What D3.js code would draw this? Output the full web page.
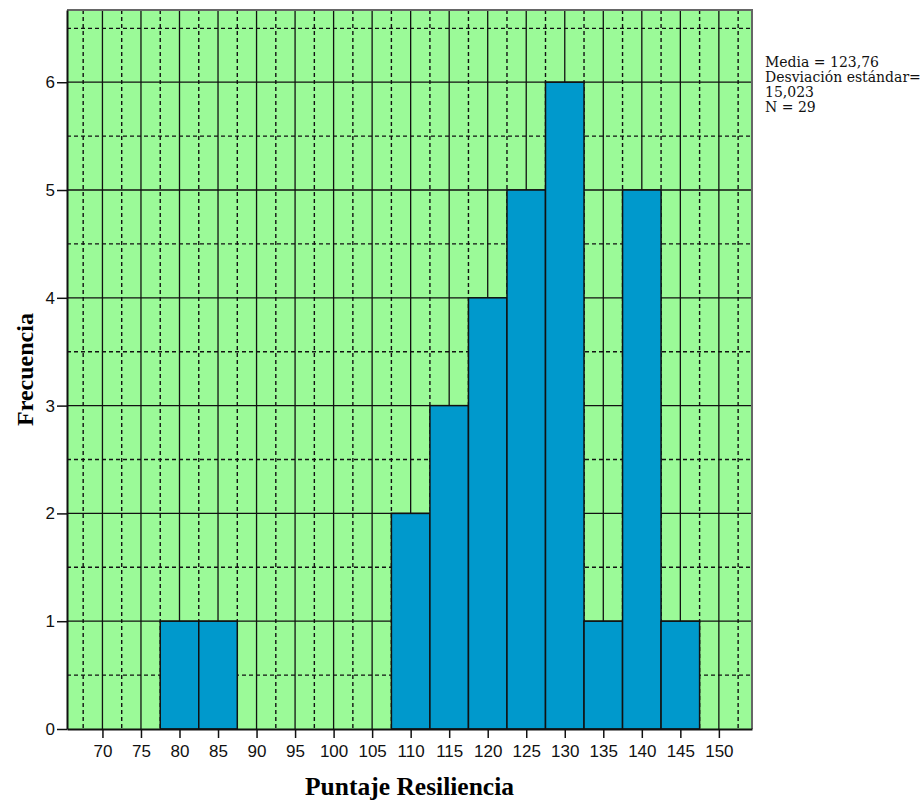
<!DOCTYPE html>
<html>
<head>
<meta charset="utf-8">
<script src="https://cdnjs.cloudflare.com/ajax/libs/d3/7.8.5/d3.min.js"></script>
<style>
  body { margin: 0; background: #fff; }
  .tick text { font-family: "Liberation Sans", Arial, sans-serif; font-size: 17px; fill: #111; }
</style>
</head>
<body>
<div class="chart"></div>
<script>
// bin centres (width 5) and their counts
var binCenters = [80, 85, 110, 115, 120, 125, 130, 135, 140, 145];
var counts = [1, 1, 2, 3, 4, 5, 6, 1, 5, 1];
var binWidth = 5;

var xTicks = [70, 75, 80, 85, 90, 95, 100, 105, 110, 115, 120, 125, 130, 135, 140, 145, 150];
var xMinor = [67.5, 72.5, 77.5, 82.5, 87.5, 92.5, 97.5, 102.5, 107.5, 112.5, 117.5, 122.5, 127.5, 132.5, 137.5, 142.5, 147.5, 152.5];
var yTicks = [0, 1, 2, 3, 4, 5, 6];
var yMinor = [0.5, 1.5, 2.5, 3.5, 4.5, 5.5, 6.5];

var statsLines = ["Media = 123,76", "Desviación estándar=", "15,023", "N = 29"];

var svgWidth = 924;
var svgHeight = 802;

var plot = { left: 67, top: 10, right: 752, bottom: 729 };

var svg = d3.select(".chart")
    .append("svg")
    .attr("width", svgWidth)
    .attr("height", svgHeight);

var x = d3.scaleLinear()
    .domain([65.4, 154.3])
    .range([plot.left, plot.right]);

var y = d3.scaleLinear()
    .domain([0, 6.67])
    .range([plot.bottom, plot.top]);

// background
svg.append("rect")
    .attr("x", plot.left)
    .attr("y", plot.top)
    .attr("width", plot.right - plot.left)
    .attr("height", plot.bottom - plot.top)
    .attr("fill", "#9bfa98");

var grid = svg.append("g").attr("stroke", "#111");

// dashed minor grid
grid.selectAll(".vminor")
    .data(xMinor)
    .enter()
    .append("line")
    .attr("x1", function(d) { return x(d); })
    .attr("x2", function(d) { return x(d); })
    .attr("y1", plot.top)
    .attr("y2", plot.bottom)
    .attr("stroke-width", 1.4)
    .attr("stroke-dasharray", "4,3");

grid.selectAll(".hminor")
    .data(yMinor)
    .enter()
    .append("line")
    .attr("x1", plot.left)
    .attr("x2", plot.right)
    .attr("y1", function(d) { return y(d); })
    .attr("y2", function(d) { return y(d); })
    .attr("stroke-width", 1.4)
    .attr("stroke-dasharray", "4,3");

// solid major grid
grid.selectAll(".vmajor")
    .data(xTicks)
    .enter()
    .append("line")
    .attr("x1", function(d) { return x(d); })
    .attr("x2", function(d) { return x(d); })
    .attr("y1", plot.top)
    .attr("y2", plot.bottom)
    .attr("stroke-width", 1.3);

grid.selectAll(".hmajor")
    .data(yTicks.slice(1))
    .enter()
    .append("line")
    .attr("x1", plot.left)
    .attr("x2", plot.right)
    .attr("y1", function(d) { return y(d); })
    .attr("y2", function(d) { return y(d); })
    .attr("stroke-width", 1.3);

// bars
svg.append("g")
    .selectAll("rect")
    .data(binCenters)
    .enter()
    .append("rect")
    .attr("x", function(d) { return x(d - binWidth / 2); })
    .attr("y", function(d, i) { return y(counts[i]); })
    .attr("width", function(d) { return x(d + binWidth / 2) - x(d - binWidth / 2); })
    .attr("height", function(d, i) { return y(0) - y(counts[i]); })
    .attr("fill", "#0099cc")
    .attr("stroke", "#111")
    .attr("stroke-width", 1.5);

// frame (top / right in grey)
svg.append("path")
    .attr("d", "M" + plot.left + "," + plot.top + "H" + plot.right + "V" + plot.bottom)
    .attr("fill", "none")
    .attr("stroke", "#666")
    .attr("stroke-width", 2);

// axes
var xAxis = d3.axisBottom(x)
    .tickValues(xTicks)
    .tickFormat(d3.format("d"))
    .tickSize(9)
    .tickPadding(7)
    .tickSizeOuter(0);

var gx = svg.append("g")
    .attr("transform", "translate(0," + plot.bottom + ")")
    .call(xAxis);
gx.select(".domain").attr("stroke", "#111").attr("stroke-width", 2);
gx.selectAll(".tick line").attr("stroke", "#111").attr("stroke-width", 1.5);

var yAxis = d3.axisLeft(y)
    .tickValues(yTicks)
    .tickFormat(d3.format("d"))
    .tickSize(10)
    .tickPadding(2)
    .tickSizeOuter(0);

var gy = svg.append("g")
    .attr("transform", "translate(" + plot.left + ",0)")
    .call(yAxis);
gy.select(".domain").attr("stroke", "#111").attr("stroke-width", 2);
gy.selectAll(".tick line").attr("stroke", "#111").attr("stroke-width", 1.5);

// axis titles
svg.append("text")
    .attr("x", (plot.left + plot.right) / 2)
    .attr("y", 795)
    .attr("text-anchor", "middle")
    .style("font-family", "'Liberation Serif', 'Times New Roman', serif")
    .style("font-weight", "bold")
    .style("font-size", "25.5px")
    .text("Puntaje Resiliencia");

svg.append("text")
    .attr("transform", "translate(33," + ((plot.top + plot.bottom) / 2) + ") rotate(-90)")
    .attr("text-anchor", "middle")
    .style("font-family", "'Liberation Serif', 'Times New Roman', serif")
    .style("font-weight", "bold")
    .style("font-size", "24px")
    .text("Frecuencia");

// stats box
svg.append("g")
    .selectAll("text")
    .data(statsLines)
    .enter()
    .append("text")
    .attr("x", 765)
    .attr("y", function(d, i) { return 66.5 + i * 15.3; })
    .style("font-family", "'DejaVu Serif', serif")
    .style("font-size", "14px")
    .attr("fill", "#111")
    .text(function(d) { return d; });
</script>
</body>
</html>
